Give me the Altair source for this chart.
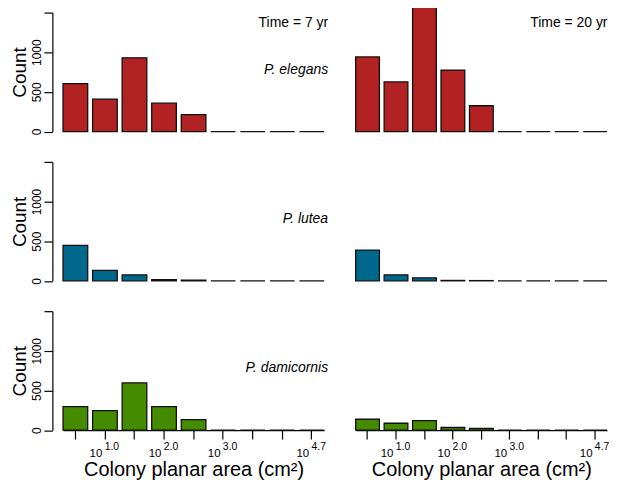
import altair as alt
import pandas as pd

# ---- data ----
bins = [1, 2, 3, 4, 5, 6, 7, 8, 9]
elegans_7 = [604, 409, 929, 358, 212, 0, 0, 0, 0]
elegans_20 = [941, 625, 1640, 775, 325, 0, 0, 0, 0]
lutea_7 = [446, 133, 75, 15, 8, 0, 0, 0, 0]
lutea_20 = [388, 75, 38, 5, 3, 0, 0, 0, 0]
damicornis_7 = [296, 246, 596, 296, 133, 0, 0, 0, 0]
damicornis_20 = [137, 87, 121, 33, 22, 0, 0, 0, 0]

species = ["P. elegans", "P. lutea", "P. damicornis"]
colors = ["#B22222", "#00688B", "#458B00"]
times = ["Time = 7 yr", "Time = 20 yr"]
tick_bins = [2, 4, 6, 9]
tick_base = "10"
tick_exps = ["1.0", "2.0", "3.0", "4.7"]
x_title = "Colony planar area (cm²)"
y_title = "Count"
y_ticks = [0, 500, 1000, 1500]

series = [[elegans_7, elegans_20], [lutea_7, lutea_20], [damicornis_7, damicornis_20]]

FONT = "Liberation Sans"
H = 119.5
WIDTHS = [262.3, 252.5]
TEXT_RIGHT = [4, 0.5]


def panel(row, col):
    w = WIDTHS[col]
    df = pd.DataFrame({"bin": bins, "count": series[row][col]})
    if row == 2:
        xaxis = alt.Axis(labels=False, ticks=True, tickSize=9, domain=True,
                         title=x_title, titleFontSize=20, titlePadding=35.5,
                         titleBaseline="alphabetic")
    else:
        xaxis = None
    xenc = alt.X("bin:O", scale=alt.Scale(domain=bins, paddingInner=0.166, paddingOuter=0),
                 axis=xaxis)
    if col == 0:
        yaxis = alt.Axis(values=y_ticks, format="d",
                         labelExpr="datum.value == 1500 ? '' : datum.label",
                         labelAngle=-90, labelAlign="center", labelBaseline="alphabetic",
                         labelPadding=3, tickSize=8.5, offset=10.7,
                         title=y_title, titleFontSize=19, titlePadding=5.7,
                         titleBaseline="alphabetic", grid=False)
    else:
        yaxis = None
    yenc = alt.Y("count:Q", scale=alt.Scale(domain=[0, 1500], nice=False), axis=yaxis)

    bars = alt.Chart(df).mark_bar(fill=colors[row], stroke="#111111", strokeWidth=1.3).encode(
        x=xenc, y=yenc)
    layers = [bars]

    if col == 0:
        sp = alt.Chart(pd.DataFrame({"label": [species[row]]})).mark_text(
            align="right", baseline="alphabetic", fontStyle="italic", fontSize=14,
            font=FONT, color="black").encode(
            x=alt.value(w + TEXT_RIGHT[col]), y=alt.value(61.5), text="label:N")
        layers.append(sp)
    if row == 0:
        tm = alt.Chart(pd.DataFrame({"label": [times[col]]})).mark_text(
            align="right", baseline="alphabetic", fontSize=14, font=FONT,
            color="black").encode(
            x=alt.value(w + TEXT_RIGHT[col]), y=alt.value(14.5), text="label:N")
        layers.append(tm)
    if row == 2:
        tdf = pd.DataFrame({"bin": tick_bins, "base": [tick_base] * len(tick_bins),
                            "exp": tick_exps})
        base_t = alt.Chart(tdf).mark_text(
            align="center", baseline="alphabetic", fontSize=11.5, font=FONT,
            color="black", dx=-9).encode(x=xenc, y=alt.value(146), text="base:N")
        exp_t = alt.Chart(tdf).mark_text(
            align="center", baseline="alphabetic", fontSize=10.5, font=FONT,
            color="black", dx=7).encode(x=xenc, y=alt.value(139.5), text="exp:N")
        layers += [base_t, exp_t]

    return alt.layer(*layers).properties(width=w, height=H)


panels = [panel(r, c) for r in range(3) for c in range(2)]
chart = alt.concat(*panels, columns=2, spacing={"row": 30, "column": 31},
                   bounds="flush", align="each").properties(
    padding={"left": 2.3, "top": -8.5, "right": -0.5, "bottom": 0}
).configure(font=FONT).configure_view(strokeWidth=0).configure_axis(
    domainColor="black", tickColor="black", labelColor="black", titleColor="black",
    titleFontWeight="normal", labelFont=FONT, titleFont=FONT, domainWidth=1.2,
    tickWidth=1.2, labelFontSize=12, grid=False)

chart.save("out.html", embed_options={"renderer": "svg", "actions": False})
